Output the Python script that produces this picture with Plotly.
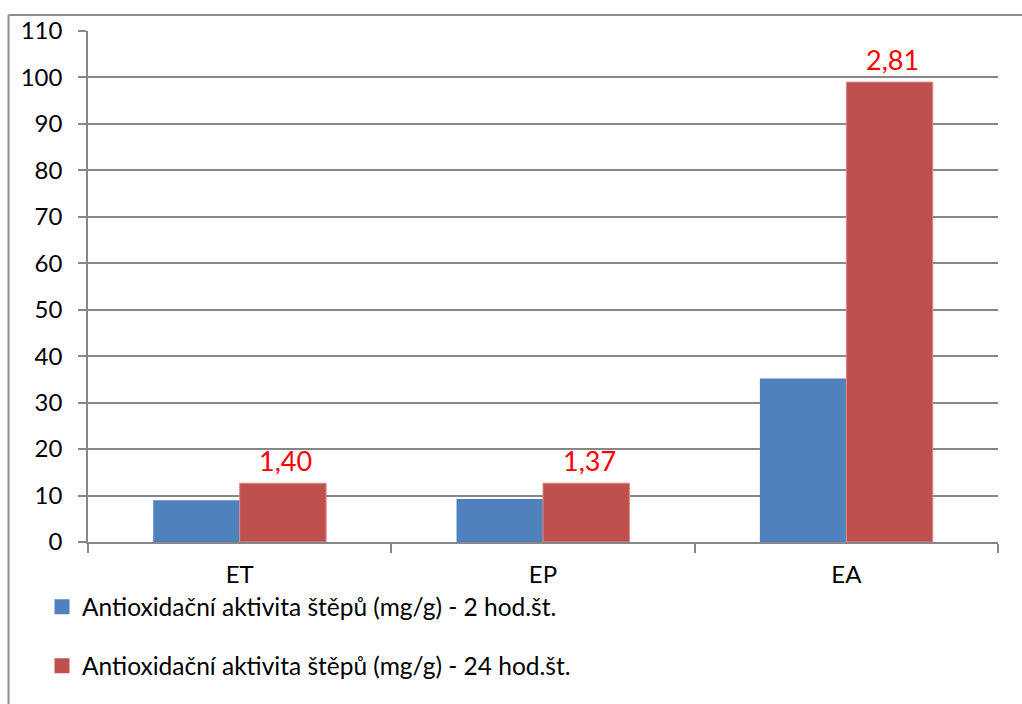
import plotly.graph_objects as go

# Data: antioxidant activity of the extracts after 2 h and 24 h
categories = ["ET", "EP", "EA"]
activity_2h = [9.0, 9.25, 35.2]
activity_24h = [12.65, 12.67, 99.0]
ratio_labels = ["1,40", "1,37", "2,81"]
series_names = [
    "Antioxidační aktivita štěpů (mg/g) - 2 hod.št.",
    "Antioxidační aktivita štěpů (mg/g) - 24 hod.št.",
]
y_ticks = list(range(0, 111, 10))

BLUE = "#4F81BD"
RED = "#C0504D"
GRID = "#878787"
FONT = "Lato"
BARGAP = 0.43

fig = go.Figure()
fig.add_trace(go.Bar(
    x=categories, y=activity_2h, name=series_names[0],
    marker=dict(color=BLUE, line=dict(width=0)),
    showlegend=False,
))
fig.add_trace(go.Bar(
    x=categories, y=activity_24h, name=series_names[1],
    marker=dict(color=RED, line=dict(width=1, color="#D98C8A")),
    showlegend=False,
))

# legend entries with larger square swatches
for name, color, grp in [(series_names[0], BLUE, "a"), (series_names[1], RED, "b")]:
    fig.add_trace(go.Scatter(
        x=[None], y=[None], mode="markers", name=name, legendgroup=grp,
        marker=dict(symbol="square", size=15, color=color),
    ))

# ratio labels above the 24 h bars
bar_w = (1 - BARGAP) / 2
for i, (val, lab) in enumerate(zip(activity_24h, ratio_labels)):
    fig.add_annotation(
        x=i + bar_w / 2, y=val, text=lab, showarrow=False,
        yanchor="bottom", yshift=4, xshift=3,
        font=dict(family=FONT, size=27, color="#FF0000"),
    )

# outer chart border (left and top edges)
L, T = 88, 31
W, H = 1022 - L - 24, 704 - T - 162
bx = (8.5 - L) / W
by = 1 + (T - 15) / H
fig.add_shape(type="line", xref="paper", yref="paper", x0=bx, x1=bx, y0=-0.5, y1=by,
              line=dict(color="#8C8C8C", width=2))
fig.add_shape(type="line", xref="paper", yref="paper", x0=bx, x1=1.2, y0=by, y1=by,
              line=dict(color="#8C8C8C", width=2))

fig.update_layout(
    width=1022, height=704,
    margin=dict(l=L, r=24, t=T, b=162),
    paper_bgcolor="white", plot_bgcolor="white",
    bargap=BARGAP, bargroupgap=0,
    font=dict(family=FONT, size=20, color="black"),
    showlegend=True,
    legend=dict(
        x=(42 - L) / W, xanchor="left", y=-0.083, yanchor="top",
        orientation="v", tracegroupgap=24, itemwidth=30,
        font=dict(family=FONT, size=24.5, color="black"),
        bgcolor="rgba(0,0,0,0)",
    ),
)
fig.update_xaxes(
    showline=True, linecolor=GRID, linewidth=1.5,
    ticks="outside", tickson="boundaries", ticklen=9, tickcolor=GRID, tickwidth=1.5,
    tickfont=dict(family=FONT, size=24, color="black"),
    ticklabelstandoff=10, showgrid=False,
)
fig.update_yaxes(
    range=[0, 110], tickvals=y_ticks, ticktext=[str(v) for v in y_ticks],
    showline=True, linecolor=GRID, linewidth=1.5,
    ticks="outside", ticklen=8, tickcolor=GRID, tickwidth=1.5,
    showgrid=True, gridcolor=GRID, gridwidth=1.5, zeroline=False,
    tickfont=dict(family=FONT, size=24, color="black"),
    ticklabelstandoff=11,
)

fig.write_html("out.html")
